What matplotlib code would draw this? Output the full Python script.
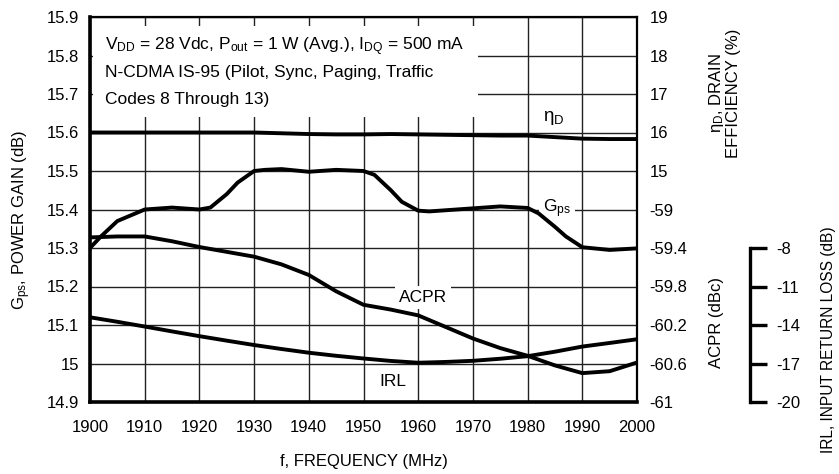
import matplotlib.pyplot as plt
from matplotlib.patches import Rectangle

plt.rcParams['font.family'] = ['Liberation Sans', 'DejaVu Sans']
plt.rcParams['mathtext.default'] = 'regular'
plt.rcParams['axes.unicode_minus'] = False

## data

gps_freq = [1900, 1902, 1905, 1910, 1915, 1920, 1922, 1925, 1927, 1930, 1932, 1935, 1940,
            1945, 1950, 1952, 1955, 1957, 1960, 1962, 1965, 1970, 1975, 1980, 1982, 1985,
            1987, 1990, 1995, 2000]
gps = [15.30, 15.33, 15.37, 15.40, 15.405, 15.40, 15.405, 15.44, 15.47, 15.50, 15.503, 15.505,
       15.498, 15.503, 15.50, 15.49, 15.45, 15.42, 15.397, 15.395, 15.398, 15.403, 15.408,
       15.404, 15.39, 15.355, 15.33, 15.302, 15.295, 15.299]

freq = [1900, 1905, 1910, 1915, 1920, 1925, 1930, 1935, 1940, 1945, 1950,
        1955, 1960, 1965, 1970, 1975, 1980, 1985, 1990, 1995, 2000]
eta = [16.0, 16.0, 16.0, 16.0, 16.0, 16.0, 16.0, 15.98, 15.96, 15.95, 15.95,
       15.96, 15.95, 15.94, 15.93, 15.92, 15.92, 15.88, 15.84, 15.83, 15.83]
acpr = [-59.29, -59.28, -59.28, -59.33, -59.39, -59.44, -59.49, -59.57, -59.68, -59.85, -59.99,
        -60.04, -60.10, -60.22, -60.34, -60.44, -60.52, -60.62, -60.70, -60.68, -60.59]
irl = [-13.4, -13.75, -14.12, -14.5, -14.87, -15.22, -15.56, -15.87, -16.16, -16.4, -16.61,
       -16.8, -16.94, -16.88, -16.79, -16.63, -16.43, -16.08, -15.68, -15.4, -15.11]

gps_ticks = [14.9, 15, 15.1, 15.2, 15.3, 15.4, 15.5, 15.6, 15.7, 15.8, 15.9]
gps_labels = ['14.9', '15', '15.1', '15.2', '15.3', '15.4', '15.5', '15.6', '15.7', '15.8', '15.9']
eta_ticks = [15, 16, 17, 18, 19]
acpr_ticks = [-61, -60.6, -60.2, -59.8, -59.4, -59]
acpr_labels = ['-61', '-60.6', '-60.2', '-59.8', '-59.4', '-59']
irl_ticks = [-20, -17, -14, -11, -8]
freq_ticks = list(range(1900, 2001, 10))

## figure

fig = plt.figure(figsize=(8.39, 4.74), dpi=100)
ax = fig.add_axes([90 / 839, 72 / 474, 547 / 839, 385 / 474])
fs = 12
fa = 12.5
lw = 2.8

ax.set_xlim(1900, 2000)
ax.set_ylim(14.9, 15.9)
ax.set_xticks(freq_ticks)
ax.set_yticks(gps_ticks)
ax.set_yticklabels(gps_labels)
ax.tick_params(length=0, labelsize=fs)
ax.tick_params(axis='x', pad=13)
ax.tick_params(axis='y', pad=8)
ax.grid(True, color='#222222', lw=1.0)
for side in ['left', 'bottom']:
    ax.spines[side].set_linewidth(2.6)
for side in ['top', 'right']:
    ax.spines[side].set_linewidth(1.6)
ax.plot(gps_freq, gps, color='black', lw=lw, zorder=3)

# white area behind the conditions text
ax.add_patch(Rectangle((1900.5, 15.64), 70.4, 0.237, facecolor='white', edgecolor='none', zorder=1.8))
ax.text(1902.7, 15.814, r'$V_{DD}$ = 28 Vdc, $P_{out}$ = 1 W (Avg.), $I_{DQ}$ = 500 mA', fontsize=fa, zorder=4)
ax.text(1902.7, 15.744, 'N-CDMA IS-95 (Pilot, Sync, Paging, Traffic', fontsize=fa, zorder=4)
ax.text(1902.7, 15.674, 'Codes 8 Through 13)', fontsize=fa, zorder=4)

# curve labels sit on white boxes that cut the grid but not the curves
box = dict(facecolor='white', edgecolor='none', pad=3)
ax.text(1984.7, 15.637, r'$\eta_D$', fontsize=fa + 1, ha='center', va='center', bbox=box, zorder=2.5)
ax.text(1985.4, 15.402, r'$G_{ps}$', fontsize=fa, ha='center', va='center', bbox=box, zorder=2.5)
ax.text(1960.9, 15.172, 'ACPR', fontsize=fa, ha='center', va='center', bbox=box, zorder=2.5)
ax.text(1955.4, 14.952, 'IRL', fontsize=fa, ha='center', va='center', zorder=2.5)

ax.set_xlabel('f, FREQUENCY (MHz)', fontsize=fs)
ax.xaxis.set_label_coords(0.5, -0.135)
ax.set_ylabel(r'$G_{ps}$, POWER GAIN (dB)', fontsize=fs)
ax.yaxis.set_label_coords(-0.104, 0.473)

# drain efficiency, right axis (upper part)
ax_eta = ax.twinx()
ax_eta.set_ylim(9, 19)
ax_eta.set_yticks(eta_ticks)
ax_eta.tick_params(length=0, labelsize=fs, pad=9)
for s in ax_eta.spines.values():
    s.set_visible(False)
ax_eta.plot(freq, eta, color='black', lw=lw)

# ACPR, right axis (lower part)
ax_acpr = ax.twinx()
ax_acpr.set_ylim(-61, -57)
ax_acpr.set_yticks(acpr_ticks)
ax_acpr.set_yticklabels(acpr_labels)
ax_acpr.tick_params(length=0, labelsize=fs, pad=9)
for s in ax_acpr.spines.values():
    s.set_visible(False)
ax_acpr.plot(freq, acpr, color='black', lw=lw)

# IRL, separate bracket axis
ax_irl = ax.twinx()
ax_irl.set_ylim(-20, 10)
for s in ['left', 'top', 'bottom']:
    ax_irl.spines[s].set_visible(False)
ax_irl.spines['right'].set_position(('axes', (750 - 90) / 547))
ax_irl.spines['right'].set_bounds(-20, -8)
ax_irl.spines['right'].set_linewidth(2.4)
ax_irl.set_yticks(irl_ticks)
ax_irl.tick_params(direction='out', length=12, width=2.4, labelsize=fs, pad=7)
ax_irl.plot(freq, irl, color='black', lw=lw)

fig.text(716 / 839, 1 - 322 / 474, 'ACPR (dBc)', rotation=90, ha='center', va='center', fontsize=fs)
fig.text(724 / 839, 1 - 93 / 474, '$\\eta_D$, DRAIN\nEFFICIENCY (%)', rotation=90, ha='center', va='center',
         fontsize=fs, linespacing=1.0)
fig.text(828 / 839, 1 - 340 / 474, 'IRL, INPUT RETURN LOSS (dB)', rotation=90, ha='center', va='center',
         fontsize=11.2)

fig.savefig('out.png', dpi=100)
